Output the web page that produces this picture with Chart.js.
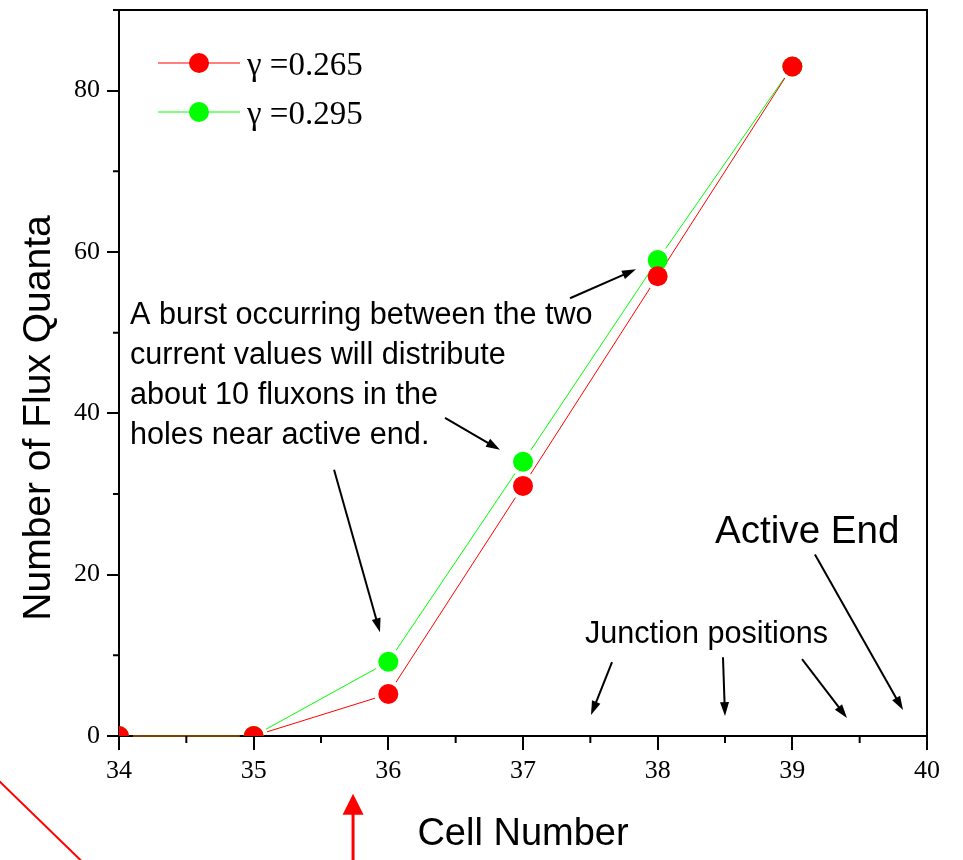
<!DOCTYPE html>
<html>
<head>
<meta charset="utf-8">
<script src="https://cdn.jsdelivr.net/npm/chart.js@4.4.1/dist/chart.umd.min.js"></script>
<style>
  html, body { margin: 0; padding: 0; background: #fff; }
  canvas { display: block; }
</style>
</head>
<body>
<canvas id="chart" width="963" height="860"></canvas>
<script>
// Flux quanta trapped per cell for two bias values
const cells = [34, 35, 36, 37, 38, 39];
const fluxLow = [0, 0, 5.2, 31, 57, 83];    // γ = 0.265
const fluxHigh = [0, 0, 9.2, 34, 59, 83];   // γ = 0.295
const seriesNames = ['γ =0.265', 'γ =0.295'];

const xTickValues = [34, 35, 36, 37, 38, 39, 40];
const yTickValues = [0, 20, 40, 60, 80];
const xMinorValues = [34.5, 35.5, 36.5, 37.5, 38.5, 39.5];
const yMinorValues = [10, 30, 50, 70];

const xTitle = 'Cell Number';
const yTitle = 'Number of Flux Quanta';
const burstNote = [
  'A burst occurring between the two',
  'current values will distribute',
  'about 10 fluxons in the',
  'holes near active end.'
];
const junctionNote = 'Junction positions';
const endNote = 'Active End';

// ---- styling ----
const RED = '#ff0000';
const GREEN = '#00ff00';
const colors = [RED, GREEN];
const SERIF = '"Liberation Serif", "Times New Roman", serif';
const SANS = '"Liberation Sans", Arial, sans-serif';

// Annotation anchors, in axis units (cell, flux quanta)
const notes = {
  burst: { x: 34.082, y: 51.06, lineStep: 40 },
  junction: { x: 37.46, y: 11.5 },
  end: { x: 38.426, y: 23.98 },
  arrows: [
    [36.421, 39.44, 36.829, 35.48],
    [37.349, 54.27, 37.839, 57.86],
    [35.597, 33.01, 35.938, 12.86],
    [37.661, 9.15, 37.505, 2.60],
    [38.485, 9.77, 38.500, 2.47],
    [39.072, 9.52, 39.406, 2.23],
    [39.168, 22.50, 39.822, 3.21]
  ],
  redArrow: [35.738, -16.0, 35.738, -7.17],
  redSlash: [33.042, -4.48, 33.822, -17.13]
};

const pts = ys => cells.map((x, i) => ({ x: x, y: ys[i] }));

function markerSet(i, ys) {
  return {
    label: seriesNames[i],
    data: pts(ys),
    showLine: false,
    pointRadius: 10,
    pointHoverRadius: 10,
    pointBackgroundColor: colors[i],
    pointBorderWidth: 0,
    order: i,
    clip: 0
  };
}
function lineSet(i, ys) {
  return {
    label: seriesNames[i] + ' (line)',
    data: pts(ys),
    showLine: true,
    borderColor: colors[i],
    borderWidth: 1,
    pointRadius: 0,
    pointHitRadius: 0,
    fill: false,
    tension: 0,
    order: 2 + i,
    clip: 3,
    lineGap: 14
  };
}

function arrow(ctx, x1, y1, x2, y2, color, width, headLen, headHalf) {
  const a = Math.atan2(y2 - y1, x2 - x1);
  const bx = x2 - headLen * Math.cos(a), by = y2 - headLen * Math.sin(a);
  ctx.save();
  ctx.strokeStyle = color;
  ctx.fillStyle = color;
  ctx.lineWidth = width;
  ctx.beginPath();
  ctx.moveTo(x1, y1);
  ctx.lineTo(bx + Math.cos(a) * 2, by + Math.sin(a) * 2);
  ctx.stroke();
  ctx.beginPath();
  ctx.moveTo(x2, y2);
  ctx.lineTo(bx + headHalf * Math.sin(a), by - headHalf * Math.cos(a));
  ctx.lineTo(bx - headHalf * Math.sin(a), by + headHalf * Math.cos(a));
  ctx.closePath();
  ctx.fill();
  ctx.restore();
}

const decorations = {
  id: 'decorations',
  // Leave a small gap in each line around its own markers
  beforeDatasetDraw(chart, args) {
    const ds = chart.data.datasets[args.index];
    if (!ds.lineGap) return;
    const ctx = chart.ctx;
    ctx.save();
    ctx.beginPath();
    ctx.rect(0, 0, chart.width, chart.height);
    args.meta.data.forEach(p => {
      ctx.moveTo(p.x + ds.lineGap, p.y);
      ctx.arc(p.x, p.y, ds.lineGap, 0, Math.PI * 2);
    });
    ctx.clip('evenodd');
  },
  afterDatasetDraw(chart, args) {
    if (chart.data.datasets[args.index].lineGap) chart.ctx.restore();
  },
  afterDraw(chart) {
    const ctx = chart.ctx;
    const area = chart.chartArea;
    const xs = chart.scales.x, ys = chart.scales.y;
    const px = v => xs.getPixelForValue(v);
    const py = v => ys.getPixelForValue(v);

    ctx.save();
    // frame: top and right edges
    ctx.strokeStyle = '#000';
    ctx.lineWidth = 2;
    ctx.beginPath();
    ctx.moveTo(area.left - 6, area.top);
    ctx.lineTo(area.right, area.top);
    ctx.lineTo(area.right, area.bottom);
    ctx.stroke();

    // minor ticks
    ctx.beginPath();
    xMinorValues.forEach(v => { ctx.moveTo(px(v), area.bottom); ctx.lineTo(px(v), area.bottom + 7); });
    yMinorValues.forEach(v => { ctx.moveTo(area.left, py(v)); ctx.lineTo(area.left - 6, py(v)); });
    ctx.stroke();

    // legend
    const markers = chart.data.datasets.filter(d => !d.lineGap);
    markers.forEach((d, i) => {
      const y = area.top + 53 + i * 49;
      const x0 = area.left + 39;
      ctx.strokeStyle = d.pointBackgroundColor;
      ctx.lineWidth = 1;
      ctx.beginPath();
      ctx.moveTo(x0, y); ctx.lineTo(x0 + 82, y);
      ctx.stroke();
      ctx.fillStyle = d.pointBackgroundColor;
      ctx.beginPath();
      ctx.arc(x0 + 41, y, 10, 0, Math.PI * 2);
      ctx.fill();
      ctx.fillStyle = '#000';
      ctx.font = '33px ' + SERIF;
      ctx.textAlign = 'left';
      ctx.textBaseline = 'alphabetic';
      ctx.fillText(d.label, x0 + 89, y + 12);
    });

    // axis titles
    ctx.fillStyle = '#000';
    ctx.textBaseline = 'alphabetic';
    ctx.textAlign = 'center';
    ctx.font = '38px ' + SANS;
    ctx.fillText(xTitle, (area.left + area.right) / 2, 845);
    ctx.save();
    ctx.translate(50, 418);
    ctx.rotate(-Math.PI / 2);
    ctx.font = '39px ' + SANS;
    ctx.fillText(yTitle, 0, 0);
    ctx.restore();

    // notes
    ctx.textAlign = 'left';
    ctx.font = '30.6px ' + SANS;
    burstNote.forEach((t, i) => ctx.fillText(t, px(notes.burst.x), py(notes.burst.y) + i * notes.burst.lineStep));
    ctx.fillText(junctionNote, px(notes.junction.x), py(notes.junction.y));
    ctx.font = '38.6px ' + SANS;
    ctx.fillText(endNote, px(notes.end.x), py(notes.end.y));

    notes.arrows.forEach(a => arrow(ctx, px(a[0]), py(a[1]), px(a[2]), py(a[3]), '#000', 2, 14, 4.5));

    // red marks below the axis
    const r = notes.redArrow;
    arrow(ctx, px(r[0]), py(r[1]), px(r[2]), py(r[3]), RED, 3, 21, 10.5);
    const s = notes.redSlash;
    ctx.strokeStyle = RED;
    ctx.lineWidth = 2;
    ctx.beginPath();
    ctx.moveTo(px(s[0]), py(s[1]));
    ctx.lineTo(px(s[2]), py(s[3]));
    ctx.stroke();
    ctx.restore();
  }
};

new Chart(document.getElementById('chart'), {
  type: 'line',
  data: {
    datasets: [
      markerSet(0, fluxLow),
      markerSet(1, fluxHigh),
      lineSet(0, fluxLow),
      lineSet(1, fluxHigh)
    ]
  },
  options: {
    responsive: false,
    animation: false,
    devicePixelRatio: 1,
    layout: { padding: { left: 0, top: 8, right: 36, bottom: 0 } },
    plugins: { legend: { display: false }, tooltip: { enabled: false }, title: { display: false } },
    events: [],
    scales: {
      x: {
        type: 'linear',
        min: 34,
        max: 40,
        afterBuildTicks: s => { s.ticks = xTickValues.map(v => ({ value: v })); },
        afterFit: s => { s.height = 124; s.paddingLeft = 0; s.paddingRight = 0; },
        grid: { drawOnChartArea: false, drawTicks: true, tickLength: 14, color: '#000', lineWidth: 2 },
        border: { display: true, color: '#000', width: 2 },
        ticks: { color: '#000', font: { family: SERIF, size: 26 }, padding: 6, maxRotation: 0, autoSkip: false }
      },
      y: {
        type: 'linear',
        min: 0,
        max: 90,
        afterBuildTicks: s => { s.ticks = yTickValues.map(v => ({ value: v })); },
        afterFit: s => { s.width = 119; s.paddingTop = 0; s.paddingBottom = 0; },
        grid: { drawOnChartArea: false, drawTicks: true, tickLength: 12, color: '#000', lineWidth: 2 },
        border: { display: true, color: '#000', width: 2 },
        ticks: { color: '#000', font: { family: SERIF, size: 26 }, padding: 7, autoSkip: false }
      }
    }
  },
  plugins: [decorations]
});
</script>
</body>
</html>
